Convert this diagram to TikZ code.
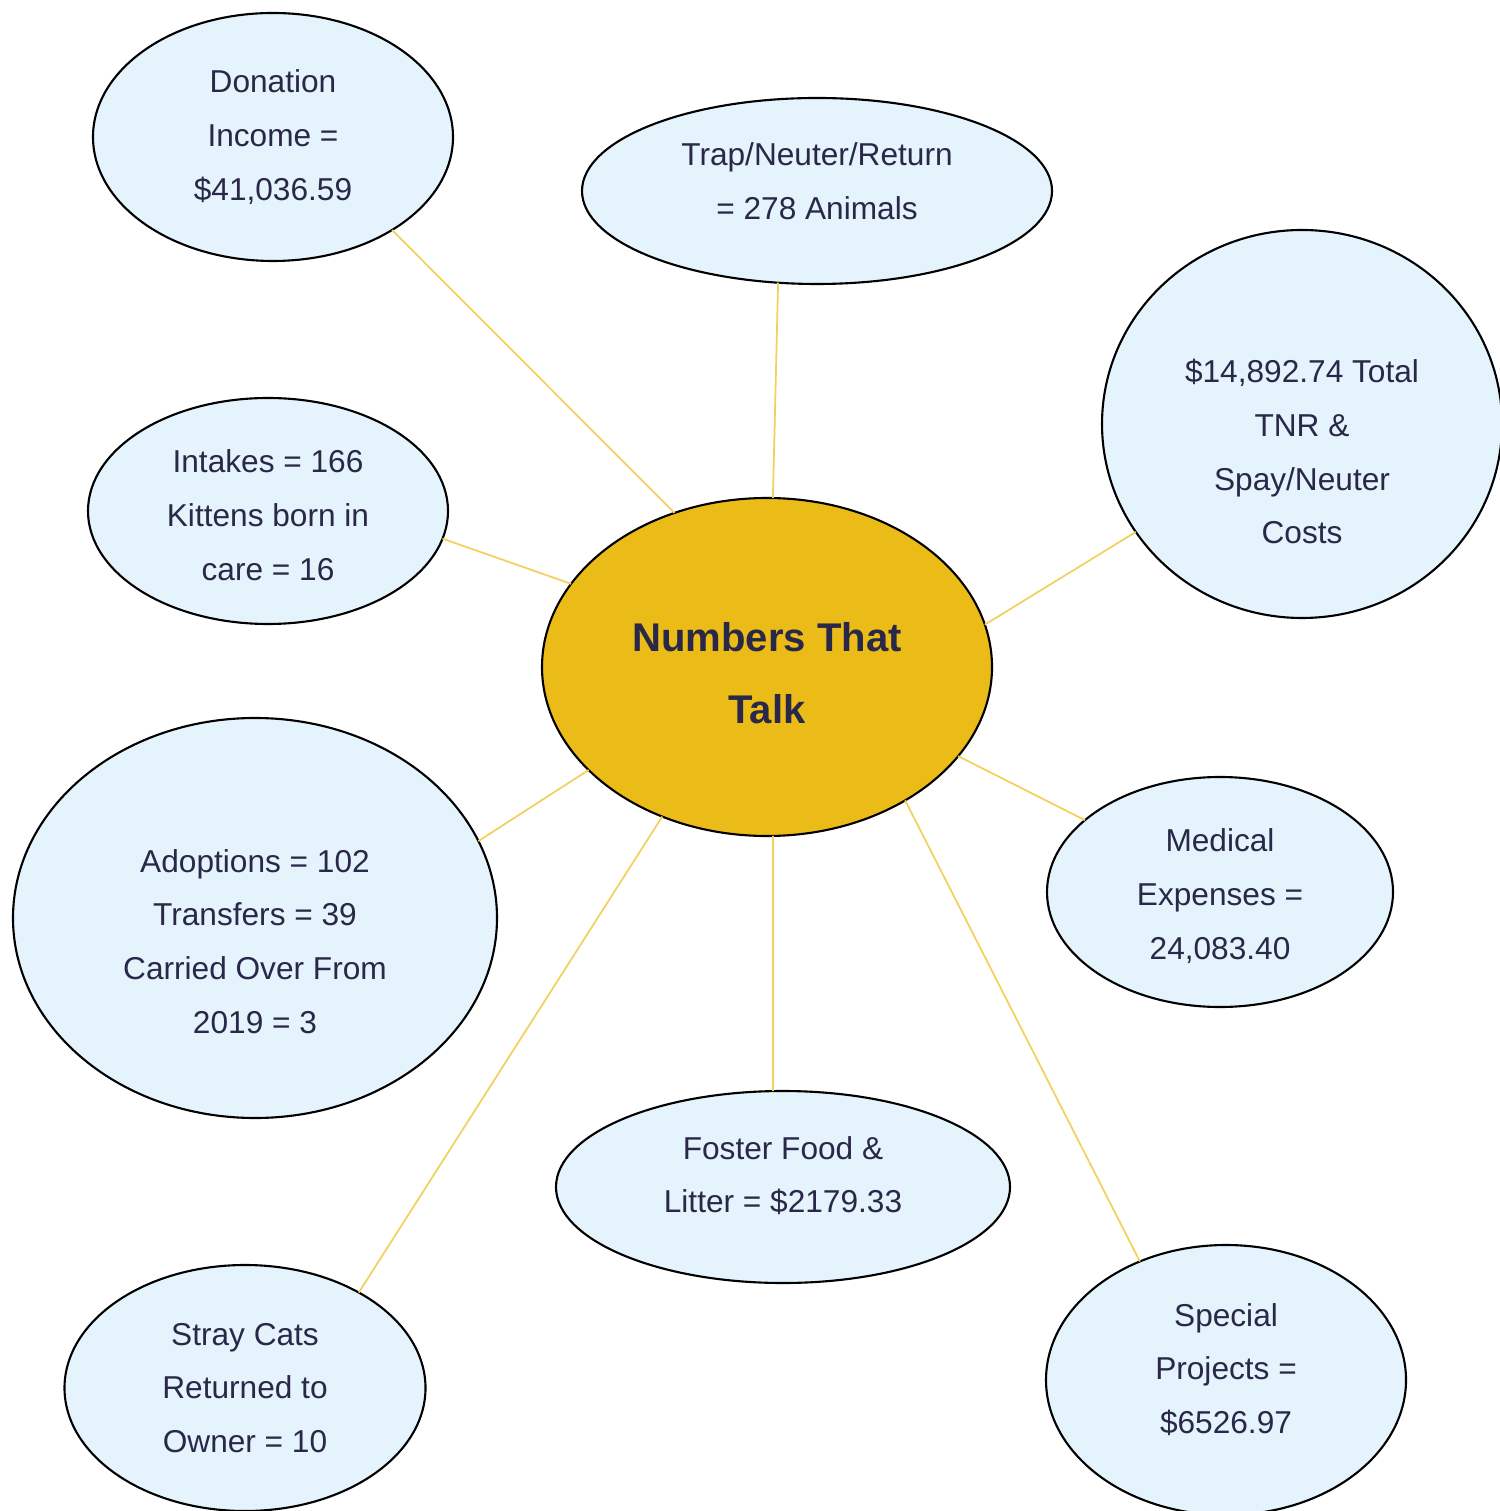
\documentclass[tikz,border=0pt]{standalone}
\usepackage{fontspec}
\setmainfont{Liberation Sans}
\usepackage{tikz}
\usetikzlibrary{shapes.geometric,positioning,calc}
\usepackage{xcolor}
\definecolor{bubblefill}{HTML}{E4F3FC}
\definecolor{hubgold}{HTML}{EBBC18}
\definecolor{linkgold}{HTML}{F2D15E}
\definecolor{inknavy}{HTML}{2A2848}

\begin{document}
\begin{tikzpicture}[
  every node/.style={font=\fontsize{9}{15.3}\selectfont, text=inknavy},
  bubble/.style={draw=black, line width=0.6pt, ellipse, fill=bubblefill,
                 inner sep=0pt, outer sep=0pt, align=center},
  hubbox/.style={bubble, fill=hubgold,
                 font=\fontsize{11.4}{20.4}\selectfont\bfseries},
  link/.style={draw=linkgold, line width=0.5pt}
]
\useasboundingbox (0,0) rectangle (14.99,-15.11);

%% ─── hub ───────────────────────────────────────────────────────────────────
\node[hubbox, minimum width=4.50cm, minimum height=3.38cm, text height=1.13cm]
      (hub) at (7.67,-6.67) {Numbers That\\Talk};

%% ─── bubbles ───────────────────────────────────────────────────────────────
\node[bubble, minimum width=3.60cm, minimum height=2.48cm]
      (don)   at (2.73,-1.37)  {Donation\\Income =\\\$41,036.59};
\node[bubble, minimum width=4.70cm, minimum height=1.86cm, text depth=0.20cm]
      (trap)  at (8.17,-1.91)  {Trap/Neuter/Return\\= 278 Animals};
\node[bubble, minimum width=4.00cm, minimum height=3.88cm, text height=2.40cm]
      (tnr)   at (13.02,-4.24) {\$14,892.74 Total\\TNR \&\\Spay/Neuter\\Costs};
\node[bubble, minimum width=3.60cm, minimum height=2.26cm, text height=1.39cm]
      (intk)  at (2.68,-5.11)  {Intakes = 166\\Kittens born in\\care = 16};
\node[bubble, minimum width=4.84cm, minimum height=4.00cm, text height=2.31cm]
      (adopt) at (2.55,-9.18)  {Adoptions = 102\\Transfers = 39\\Carried Over From\\2019 = 3};
\node[bubble, minimum width=3.46cm, minimum height=2.30cm, text height=1.39cm]
      (med)   at (12.20,-8.92) {Medical\\Expenses =\\24,083.40};
\node[bubble, minimum width=4.54cm, minimum height=1.92cm, text depth=0.25cm]
      (fost)  at (7.83,-11.87) {Foster Food \&\\Litter = \$2179.33};
\node[bubble, minimum width=3.61cm, minimum height=2.46cm]
      (stray) at (2.45,-13.88) {Stray Cats\\Returned to\\Owner = 10};
\node[bubble, minimum width=3.60cm, minimum height=2.70cm, text depth=0.23cm]
      (spec)  at (12.26,-13.80) {Special\\Projects =\\\$6526.97};

%% ─── links ─────────────────────────────────────────────────────────────────
\foreach \n/\a/\b in {don/121/322, trap/88/247, tnr/11/213, intk/157/351,
                      adopt/210/19, med/335/152, fost/272/96,
                      stray/235/40, spec/316/126}
  \draw[link] (hub.\a)--(\n.\b);

\end{tikzpicture}
\end{document}
